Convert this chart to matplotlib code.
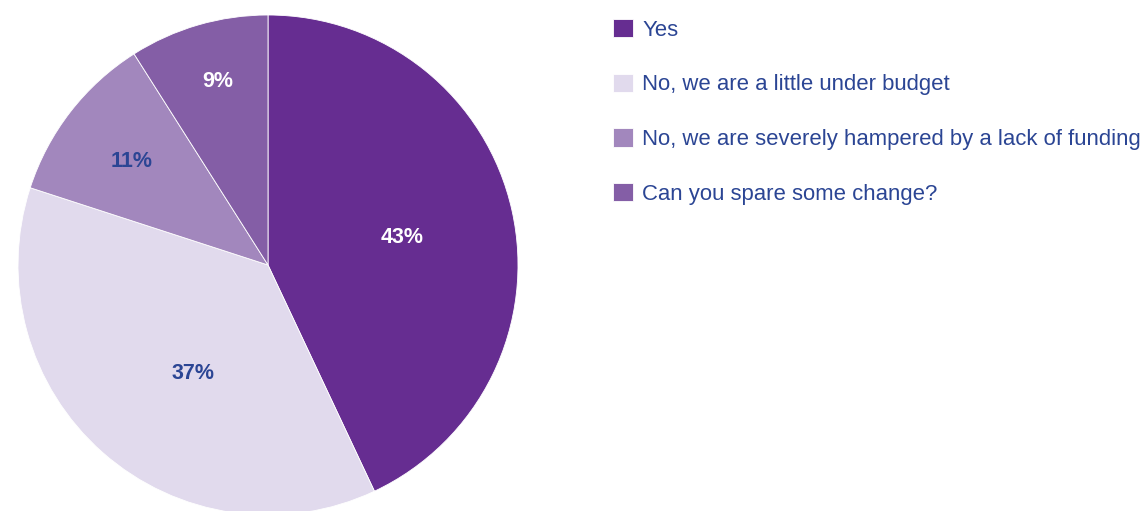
import matplotlib
matplotlib.use("Agg")
import matplotlib.pyplot as plt
import numpy as np

categories = ["Yes", "No, we are a little under budget",
              "No, we are severely hampered by a lack of funding",
              "Can you spare some change?"]
values = [43, 37, 11, 9]
labels = ["43%", "37%", "11%", "9%"]
colors = ["#662D91", "#E1DAED", "#A287BD", "#845EA6"]
label_colors = ["white", "#2B4594", "#2B4594", "white"]
label_dist = [0.55, 0.52, 0.69, 0.77]
label_angle_shift = [0, 6, 0, -1.2]
text_color = "#2B4594"

plt.rcParams['font.family'] = ['Liberation Sans', 'DejaVu Sans']

fig = plt.figure(figsize=(11.45, 5.11), dpi=100)
ax = fig.add_axes([18/1145, (511-515)/511, 500/1145, 500/511])
wedges, _ = ax.pie(values, colors=colors, startangle=90, counterclock=False,
                   wedgeprops=dict(edgecolor="white", linewidth=0.6))
ax.set_xlim(-1, 1)
ax.set_ylim(-1, 1)
ax.set_aspect('equal')
ax.axis('off')

for w, lab, c, d, s in zip(wedges, labels, label_colors, label_dist, label_angle_shift):
    ang = np.deg2rad((w.theta1 + w.theta2) / 2 + s)
    ax.text(d*np.cos(ang), d*np.sin(ang), lab, ha='center', va='center_baseline',
            color=c, fontsize=15.5, fontweight='bold')

leg = fig.legend(wedges, categories, loc='upper left',
                 bbox_to_anchor=(613/1145, 1-19/511), bbox_transform=fig.transFigure,
                 frameon=False, borderpad=0, borderaxespad=0,
                 handlelength=0.9, handleheight=0.9, handletextpad=0.42,
                 labelspacing=1.49, prop=dict(size=15.9))
for t in leg.get_texts():
    t.set_color(text_color)

fig.savefig("out.png", dpi=100)
